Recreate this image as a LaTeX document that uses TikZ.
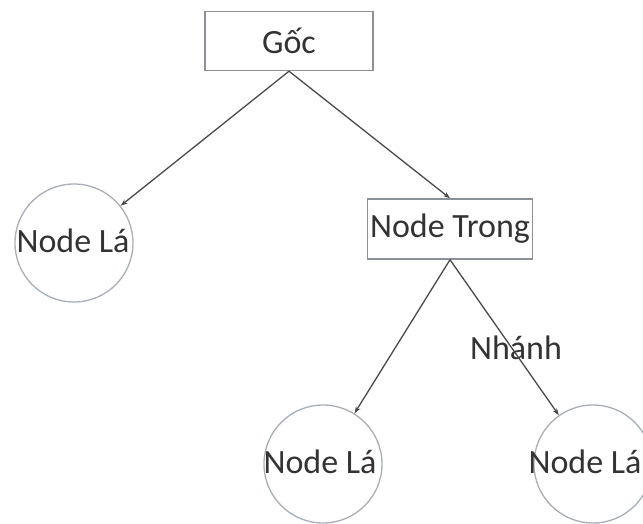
\documentclass[tikz,border=0pt]{standalone}
\usepackage{fontspec}
\setmainfont{Carlito}
\usetikzlibrary{arrows.meta}
\definecolor{txtc}{HTML}{333333}
\definecolor{boxc}{HTML}{8C9198}
\definecolor{circc}{HTML}{A8AEB8}
\definecolor{linec}{HTML}{4A4A4A}
\begin{document}
\begin{tikzpicture}[x=1pt,y=-1pt,
  every node/.style={font=\fontsize{34}{40}\selectfont, text=txtc},
  boxnode/.style={draw=boxc, line width=1.4pt, rectangle, inner sep=0pt},
  leafnode/.style={draw=circc, line width=1.3pt, circle, minimum size=118pt, inner sep=0pt},
  txtnode/.style={inner sep=0pt},
  edge/.style={draw=linec, line width=1.3pt, -{Stealth[length=7pt,width=5pt]}}]
\useasboundingbox (0,0) rectangle (643,523);
\node[boxnode, minimum width=168pt, minimum height=59pt] (goc) at (289,41) {Gốc};
\node[boxnode, minimum width=165pt, minimum height=60pt] (trong) at (450,229) {};
\node[txtnode] at (trong) {Node Trong};
\node[leafnode] (l1) at (74,243) {};
\node[txtnode] at (73,241) {Node Lá};
\node[leafnode] (l2) at (323,464) {};
\node[txtnode] at (320,462) {Node Lá};
\node[leafnode] (l3) at (593,464) {};
\node[txtnode] at (585,462) {Node Lá};
\node[txtnode] (nh) at (516,348) {Nhánh};
\draw[edge] (goc.south) -- (l1);
\draw[edge] (goc.south) -- (trong.north);
\draw[edge] (trong.south) -- (l2);
\draw[edge] (trong.south) -- (l3);
\end{tikzpicture}
\end{document}
